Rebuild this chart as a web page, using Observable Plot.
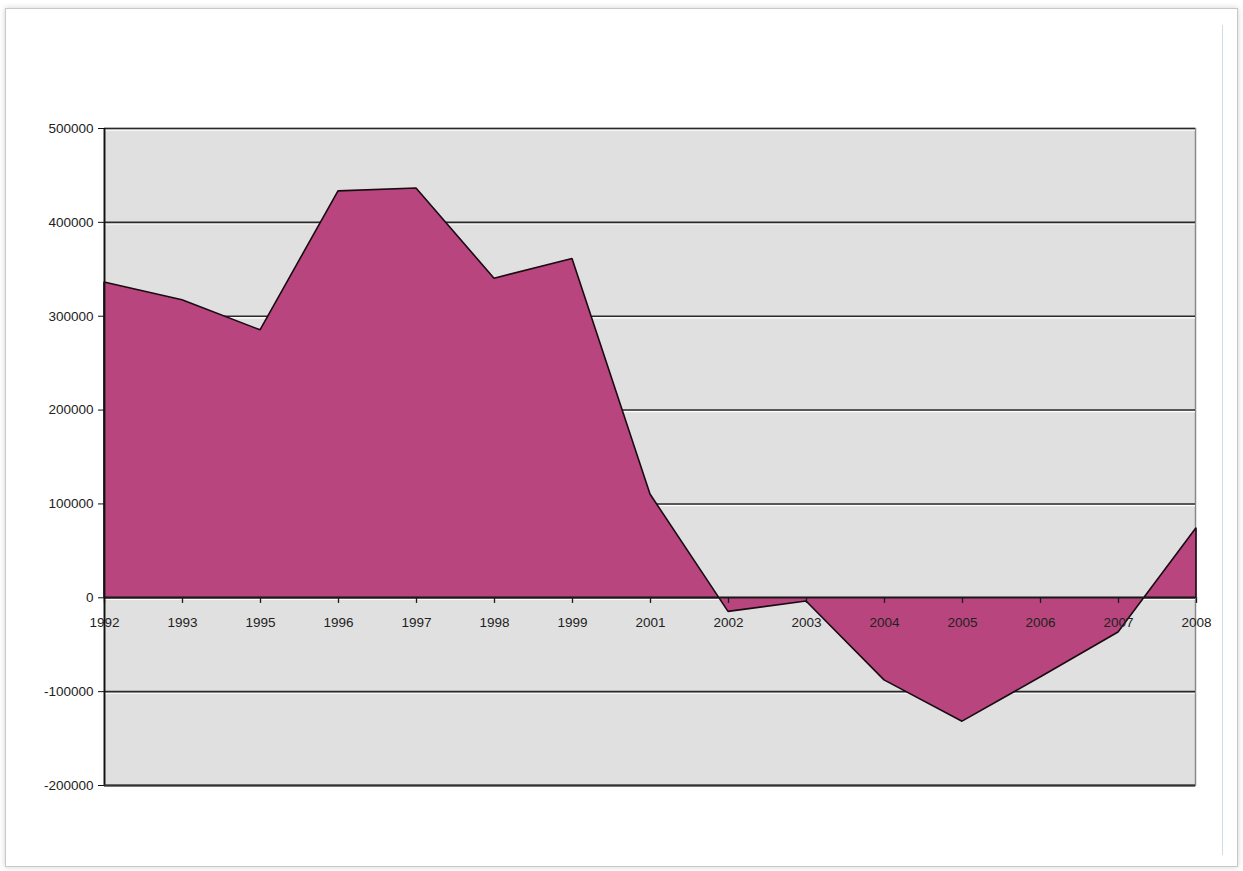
<!DOCTYPE html>
<html>
<head>
<meta charset="utf-8">
<script src="https://cdn.jsdelivr.net/npm/d3@7"></script>
<script src="https://cdn.jsdelivr.net/npm/@observablehq/plot@0.6"></script>
<style>
  html, body { margin: 0; padding: 0; background: #ffffff; }
  #page { position: relative; width: 1243px; height: 871px; overflow: hidden; }
  #frame { position: absolute; left: 5px; top: 8px; width: 1231px; height: 857px;
           border: 1px solid #c8c8c8; box-shadow: 0 0 6px rgba(0,0,0,0.18); background: #fff; }
  #edge { position: absolute; left: 1222px; top: 25px; width: 1px; height: 830px; background: #cfdbe8; }
  #chart { position: absolute; left: 0; top: 0; }
</style>
</head>
<body>
<div id="page">
  <div id="frame"></div>
  <div id="edge"></div>
  <div id="chart"></div>
</div>
<script>
const years = ["1992","1993","1995","1996","1997","1998","1999","2001","2002","2003","2004","2005","2006","2007","2008"];
const values = [336000, 317000, 285000, 433000, 436000, 340000, 361000, 110000, -15000, -4000, -88000, -132000, -85000, -37000, 74000];
const yTicks = [-200000, -100000, 0, 100000, 200000, 300000, 400000, 500000];

const data = years.map((y, i) => ({year: y, value: values[i]}));

const chart = Plot.plot({
  width: 1243,
  height: 871,
  marginLeft: 104,
  marginRight: 48,
  marginTop: 128,
  marginBottom: 86,
  style: {background: "transparent", fontFamily: "Arial, 'Liberation Sans', sans-serif", fontSize: "13.5px", color: "#222"},
  x: {type: "point", domain: years, range: [97, 1202], padding: 0, axis: null},
  y: {domain: [-200000, 500000], axis: null},
  marks: [
    Plot.frame({fill: "#e0e0e0", stroke: "#8a8a8a", strokeWidth: 1.5}),
    Plot.ruleY(yTicks, {stroke: "#ffffff", strokeWidth: 1.2, dy: 1.6}),
    Plot.ruleY(yTicks, {stroke: "#2a2a2a", strokeWidth: 1.6}),
    Plot.areaY(data, {x: "year", y: "value", fill: "#b8457d", stroke: "#1a0a12", strokeWidth: 1.6, strokeLinejoin: "miter"}),
    Plot.ruleY([0], {stroke: "#1a1a1a", strokeWidth: 1.6}),
    Plot.ruleX(years, {x: d => d, y1: 0, y2: -6000, stroke: "#1a1a1a", strokeWidth: 1.3}),
    Plot.ruleX([years[0]], {y1: -200000, y2: 500000, stroke: "#111", strokeWidth: 1.8}),
    Plot.ruleY([-200000], {stroke: "#333", strokeWidth: 2}),
    Plot.axisY({ticks: yTicks, tickFormat: d => String(d), tickSize: 6, tickPadding: 5, label: null, stroke: "#111", fill: "#222"}),
    Plot.text(years, {x: d => d, y: 0, dy: 25, text: d => d, fill: "#222"})
  ]
});
document.getElementById("chart").appendChild(chart);
</script>
</body>
</html>
